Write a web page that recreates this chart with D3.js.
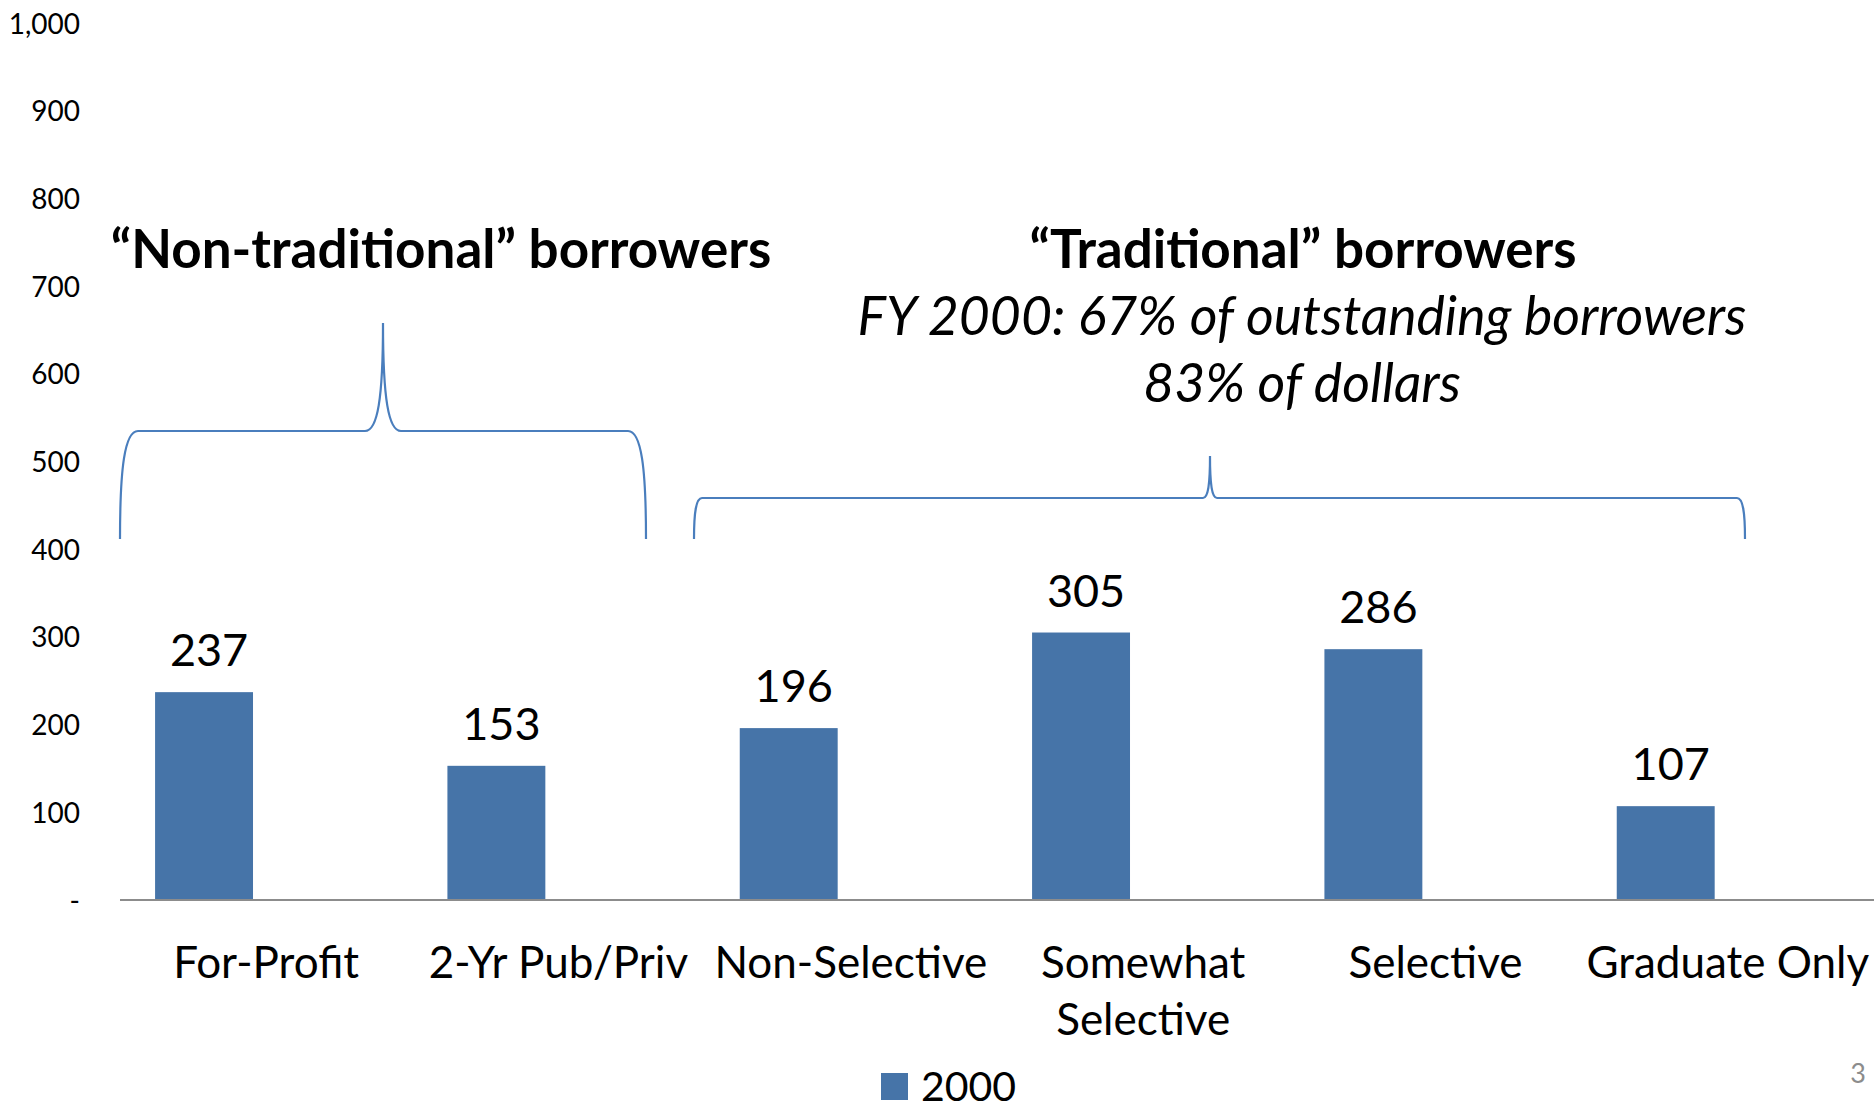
<!DOCTYPE html>
<html>
<head>
<meta charset="utf-8">
<script src="https://cdn.jsdelivr.net/npm/d3@7"></script>
<style>
  html, body { margin: 0; padding: 0; background: #ffffff; }
  svg { display: block; font-family: Lato, "Open Sans", sans-serif; }
</style>
</head>
<body>
<svg id="chart" width="1874" height="1110"></svg>
<script>
// Outstanding borrowers by institution type (thousands), FY 2000
const categories = ["For-Profit", "2-Yr Pub/Priv", "Non-Selective", "Somewhat Selective", "Selective", "Graduate Only"];
const values2000 = [237, 153, 196, 305, 286, 107];
const seriesName = "2000";
const yTicks = [0, 100, 200, 300, 400, 500, 600, 700, 800, 900, 1000];

// Group annotations above the bars
const groupTitles = ["\u201CNon-traditional\u201D borrowers", "\u201CTraditional\u201D borrowers"];
const subtitleLines = ["FY 2000: 67% of outstanding borrowers", "83% of dollars"];

const svg = d3.select("#chart");
const BAR = "#4674a8";
const BRACE = "#4a7ebd";

const x = d3.scaleBand().domain(categories).range([120, 1874]).padding(0);
const y = d3.scaleLinear().domain([0, 1000]).range([900, 23]);

// Bars sit in the left slot of each category band
const barOffset = x.bandwidth() * 0.12;
const barWidth = x.bandwidth() * 0.335;

// Y axis: labels only
const yAxis = d3.axisLeft(y)
  .tickValues(yTicks)
  .tickSize(0)
  .tickPadding(0)
  .tickFormat(d => d === 0 ? "-" : d3.format(",")(d));

const gy = svg.append("g").attr("transform", "translate(80,0)").call(yAxis);
gy.select(".domain").remove();
gy.selectAll("text")
  .attr("font-family", "Lato, sans-serif")
  .attr("font-size", 28)
  .attr("fill", "#000")
  .attr("dy", "0.36em");

const rows = categories.map((c, i) => ({ c, v: values2000[i] }));

// Bars
svg.append("g").selectAll("rect")
  .data(rows)
  .join("rect")
  .attr("x", d => x(d.c) + barOffset)
  .attr("y", d => y(d.v))
  .attr("width", barWidth)
  .attr("height", d => y(0) - y(d.v))
  .attr("fill", BAR);

// Category axis line
svg.append("line")
  .attr("x1", x.range()[0]).attr("x2", x.range()[1])
  .attr("y1", y(0)).attr("y2", y(0))
  .attr("stroke", "#8c8c8c").attr("stroke-width", 2);

// Value labels
svg.append("g").selectAll("text")
  .data(rows)
  .join("text")
  .attr("x", d => x(d.c) + barOffset + barWidth / 2 + 5)
  .attr("y", d => y(d.v) - 26)
  .attr("text-anchor", "middle")
  .attr("font-size", 45)
  .attr("fill", "#000")
  .text(d => d.v);

// Category labels, wrapped when wider than the band
const catG = svg.append("g");
categories.forEach(c => {
  const cx = x(c) + x.bandwidth() / 2;
  const t = catG.append("text")
    .attr("x", cx)
    .attr("y", 978)
    .attr("text-anchor", "middle")
    .attr("font-size", 44)
    .attr("fill", "#000")
    .text(c);
  if (t.node().getComputedTextLength() > x.bandwidth() && c.includes(" ")) {
    const words = c.split(" ");
    t.text(null);
    words.forEach((w, i) => {
      t.append("tspan")
        .attr("x", cx)
        .attr("dy", i === 0 ? 0 : 57)
        .text(w);
    });
  }
});

// Legend
svg.append("rect")
  .attr("x", 881).attr("y", 1073).attr("width", 27).attr("height", 27)
  .attr("fill", BAR);
svg.append("text")
  .attr("x", 921).attr("y", 1101)
  .attr("font-size", 41)
  .attr("fill", "#000")
  .text(seriesName);

// Slide number
svg.append("text")
  .attr("x", 1866).attr("y", 1083)
  .attr("text-anchor", "end")
  .attr("font-size", 27)
  .attr("fill", "#8c8c8c")
  .text("3");

// Curly brace opening downward, with a pointed tip at the top (tip at xm)
function bracePath(x0, x1, xm, yBar, yBottom, yTip, corner, tipHalf) {
  const p = d3.path();
  p.moveTo(x0, yBottom);
  p.bezierCurveTo(x0, yBar + (yBottom - yBar) * 0.35, x0 + corner * 0.25, yBar, x0 + corner, yBar);
  p.lineTo(xm - tipHalf, yBar);
  p.bezierCurveTo(xm - tipHalf * 0.3, yBar, xm, yBar - (yBar - yTip) * 0.3, xm, yTip);
  p.bezierCurveTo(xm, yBar - (yBar - yTip) * 0.3, xm + tipHalf * 0.3, yBar, xm + tipHalf, yBar);
  p.lineTo(x1 - corner, yBar);
  p.bezierCurveTo(x1 - corner * 0.25, yBar, x1, yBar + (yBottom - yBar) * 0.35, x1, yBottom);
  return p.toString();
}

svg.append("path")
  .attr("d", bracePath(120, 646, 383, 431, 539, 323, 18, 18))
  .attr("fill", "none").attr("stroke", BRACE).attr("stroke-width", 2.2);
svg.append("path")
  .attr("d", bracePath(694, 1745, 1210, 498, 539, 456, 8, 7))
  .attr("fill", "none").attr("stroke", BRACE).attr("stroke-width", 2.2);

// Group titles
svg.append("text")
  .attr("x", 441).attr("y", 268)
  .attr("text-anchor", "middle")
  .attr("font-size", 53).attr("font-weight", 700)
  .attr("fill", "#000")
  .text(groupTitles[0]);
svg.append("text")
  .attr("x", 1303).attr("y", 268)
  .attr("text-anchor", "middle")
  .attr("font-size", 53).attr("font-weight", 700)
  .attr("fill", "#000")
  .text(groupTitles[1]);
subtitleLines.forEach((s, i) => {
  svg.append("text")
    .attr("x", 1302).attr("y", 335 + i * 67)
    .attr("text-anchor", "middle")
    .attr("font-size", 53.5).attr("font-style", "italic")
    .attr("fill", "#000")
    .text(s);
});
</script>
</body>
</html>
